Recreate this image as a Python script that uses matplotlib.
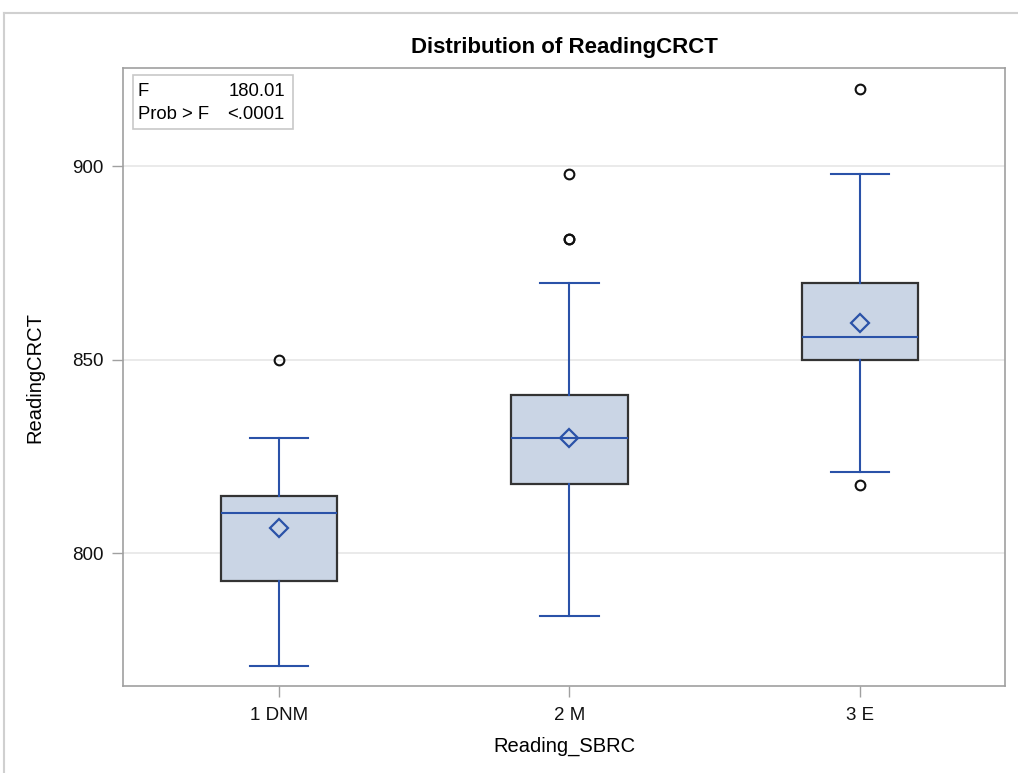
import matplotlib
matplotlib.use('Agg')
import matplotlib.pyplot as plt
from matplotlib.lines import Line2D

plt.rcParams['font.family'] = ['Liberation Sans', 'DejaVu Sans']

# -----------------------------------------------------------------------------
# Data
# -----------------------------------------------------------------------------
categories = ['1 DNM', '2 M', '3 E']
whisker_low = [771.0, 783.8, 821.0]
q1 = [792.9, 817.9, 850.0]
medians = [810.3, 829.9, 855.8]
q3 = [814.8, 840.9, 869.9]
whisker_high = [829.7, 869.9, 898.0]
means = [806.6, 829.9, 859.4]
outliers = [[850.0], [881.1, 881.1, 898.0], [817.6, 920.0]]

f_value = '180.01'
p_value = '<.0001'

# -----------------------------------------------------------------------------
# Colours
# -----------------------------------------------------------------------------
box_fill = '#CAD5E5'
box_edge = '#333333'
blue = '#2A52A8'
grid_col = '#E6E6E6'
frame_col = '#A0A0A0'

fig = plt.figure(figsize=(10.18, 7.73), dpi=100)
ax = fig.add_axes([0.1208, 0.1125, 0.8664, 0.7995])

stats = []
for i in range(len(categories)):
    stats.append({
        'label': categories[i],
        'whislo': whisker_low[i],
        'q1': q1[i],
        'med': medians[i],
        'q3': q3[i],
        'whishi': whisker_high[i],
        'mean': means[i],
        'fliers': outliers[i],
    })

positions = [1, 2, 3]
ax.bxp(stats, positions=positions, widths=0.4, patch_artist=True,
       showmeans=True, showfliers=True,
       boxprops=dict(facecolor=box_fill, edgecolor=box_edge, linewidth=1.6),
       medianprops=dict(color=blue, linewidth=1.5),
       whiskerprops=dict(color=blue, linewidth=1.5),
       capprops=dict(color=blue, linewidth=1.5),
       capwidths=0.2,
       meanprops=dict(marker='D', markerfacecolor='none', markeredgecolor=blue,
                      markersize=9, markeredgewidth=1.6),
       flierprops=dict(marker='o', markerfacecolor='none', markeredgecolor='#111111',
                       markersize=7, markeredgewidth=1.5),
       zorder=3)

# -----------------------------------------------------------------------------
# Axes styling
# -----------------------------------------------------------------------------
ax.set_xlim(0.463, 3.499)
ax.set_ylim(765.7, 925.4)
ax.set_yticks([800, 850, 900])
ax.set_xticks(positions)
ax.set_xticklabels(categories)
ax.yaxis.grid(True, color=grid_col, linewidth=1.2, zorder=0)
ax.set_axisbelow(True)
for s in ax.spines.values():
    s.set_color(frame_col)
    s.set_linewidth(1.2)
ax.tick_params(axis='both', colors=frame_col, labelcolor='#111111', labelsize=13.5,
               length=8, width=1)
ax.tick_params(axis='x', pad=7)
ax.tick_params(axis='y', pad=6)

ax.set_title('Distribution of ReadingCRCT', fontsize=16, fontweight='bold', pad=11)
ax.set_xlabel('Reading_SBRC', fontsize=14.5, labelpad=9)
ax.set_ylabel('ReadingCRCT', fontsize=14.5, labelpad=20)

# Inset statistics table
ax.text(0.0165, 0.975, 'F\nProb > F', transform=ax.transAxes, fontsize=13.3,
        va='top', ha='left', linespacing=1.45, zorder=5)
ax.text(0.1835, 0.975, f_value + '\n' + p_value, transform=ax.transAxes, fontsize=13.3,
        va='top', ha='right', linespacing=1.45, zorder=5)
box = plt.Rectangle((0.0113, 0.9013), 0.181, 0.0874, transform=ax.transAxes,
                    facecolor='white', edgecolor='#C8C8C8', linewidth=1.2, zorder=4)
ax.add_patch(box)

# Outer frame (top and left only, like the screenshot)
fig.add_artist(Line2D([0.004, 1.0], [1 - 13 / 773, 1 - 13 / 773], color='#D0D0D0', linewidth=1.5))
fig.add_artist(Line2D([0.004, 0.004], [0.0, 1 - 13 / 773], color='#D0D0D0', linewidth=1.5))

fig.savefig('out.png', dpi=100)
